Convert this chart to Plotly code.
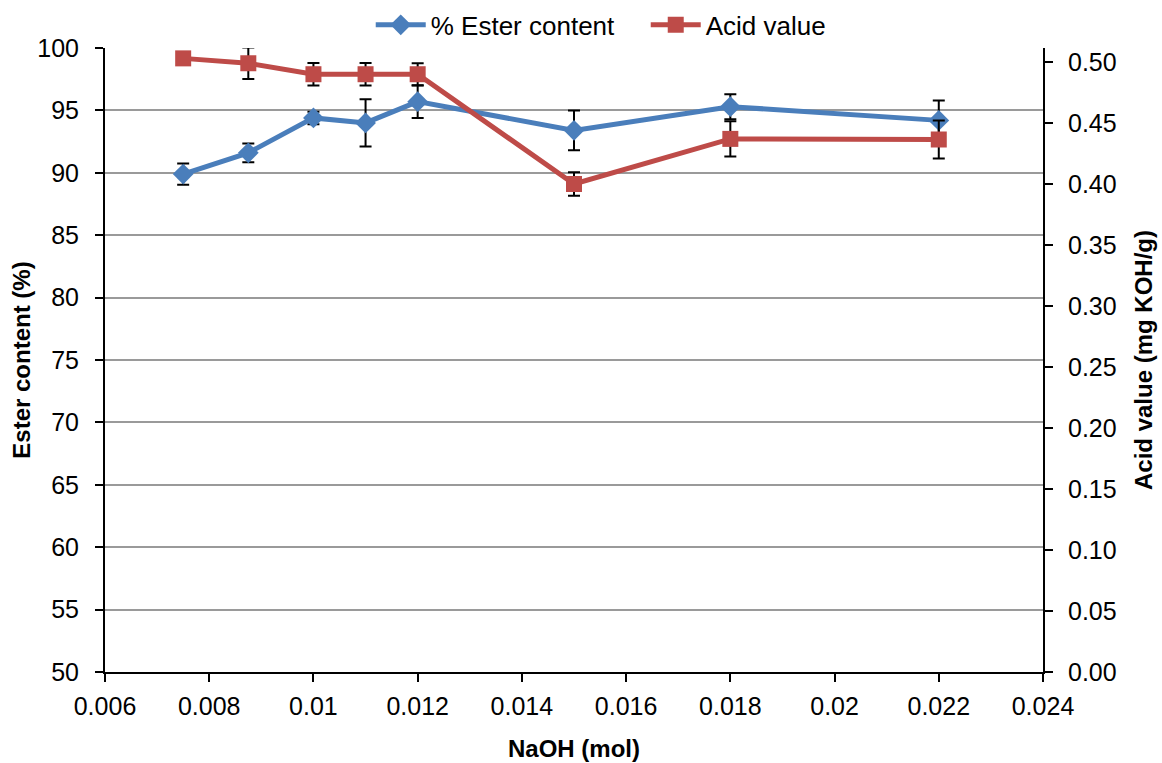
import plotly.graph_objects as go

naoh_mol = [0.0075, 0.00875, 0.010, 0.011, 0.012, 0.015, 0.018, 0.022]
ester_content = [89.9, 91.6, 94.4, 94.0, 95.7, 93.4, 95.3, 94.2]
ester_err = [0.85, 0.75, 0.5, 1.9, 1.3, 1.6, 1.0, 1.6]
acid_value = [0.503, 0.499, 0.490, 0.490, 0.490, 0.400, 0.437, 0.4365]
acid_err = [0.0, 0.013, 0.0093, 0.0093, 0.009, 0.0096, 0.0144, 0.0156]

x_tickvals = [0.006, 0.008, 0.010, 0.012, 0.014, 0.016, 0.018, 0.020, 0.022, 0.024]
x_ticktext = ["0.006", "0.008", "0.01", "0.012", "0.014", "0.016", "0.018", "0.02", "0.022", "0.024"]

FONT = "Liberation Sans, Arial, sans-serif"
BLUE = "#4A7EBB"
RED = "#BE4B48"

fig = go.Figure()
fig.add_trace(go.Scatter(
    x=naoh_mol, y=ester_content, name="% Ester content",
    mode="lines+markers",
    line=dict(color=BLUE, width=5),
    marker=dict(symbol="diamond", size=16, color=BLUE),
    error_y=dict(type="data", array=ester_err, visible=True, color="black", thickness=2, width=6),
    yaxis="y",
))
fig.add_trace(go.Scatter(
    x=naoh_mol, y=acid_value, name="Acid value",
    mode="lines+markers",
    line=dict(color=RED, width=5),
    marker=dict(symbol="square", size=16, color=RED),
    error_y=dict(type="data", array=acid_err, visible=True, color="black", thickness=2, width=6),
    yaxis="y2",
))

fig.update_layout(
    width=1162, height=763,
    margin=dict(l=105, r=119, t=48, b=91, autoexpand=False),
    paper_bgcolor="white", plot_bgcolor="white",
    font=dict(family=FONT, size=24, color="black"),
    showlegend=True,
    legend=dict(orientation="h", x=0.2833, xanchor="left", y=1.037, yanchor="middle",
                font=dict(size=26), itemwidth=50, entrywidth=210, entrywidthmode="pixels",
                bgcolor="rgba(0,0,0,0)"),
    xaxis=dict(
        range=[0.006, 0.024], tickvals=x_tickvals, ticktext=x_ticktext,
        showline=True, linecolor="black", linewidth=2, mirror=False,
        ticks="outside", ticklen=8, tickwidth=2, tickcolor="black",
        showgrid=False, zeroline=False,
        tickfont=dict(size=25), ticklabelstandoff=3,
        title=dict(text="<b>NaOH (mol)</b>", font=dict(size=24), standoff=21),
    ),
    yaxis=dict(
        range=[50, 100], dtick=5, tick0=50,
        showline=True, linecolor="black", linewidth=2,
        ticks="outside", ticklen=8, tickwidth=2, tickcolor="black",
        showgrid=True, gridcolor="#9A9A9A", gridwidth=2, zeroline=False,
        tickfont=dict(size=25), ticklabelstandoff=11,
        title=dict(text="<b>Ester content (%)</b>", font=dict(size=24), standoff=0),
    ),
    yaxis2=dict(
        range=[0, 0.5115], tickvals=[0, 0.05, 0.10, 0.15, 0.20, 0.25, 0.30, 0.35, 0.40, 0.45, 0.50],
        tickformat=".2f", overlaying="y", side="right",
        showline=True, linecolor="black", linewidth=2,
        ticks="outside", ticklen=8, tickwidth=2, tickcolor="black",
        showgrid=False, zeroline=False,
        tickfont=dict(size=25), ticklabelstandoff=10,
        title=dict(text="<b>Acid value (mg KOH/g)</b>", font=dict(size=24), standoff=20),
    ),
)

fig.write_html("out.html")
